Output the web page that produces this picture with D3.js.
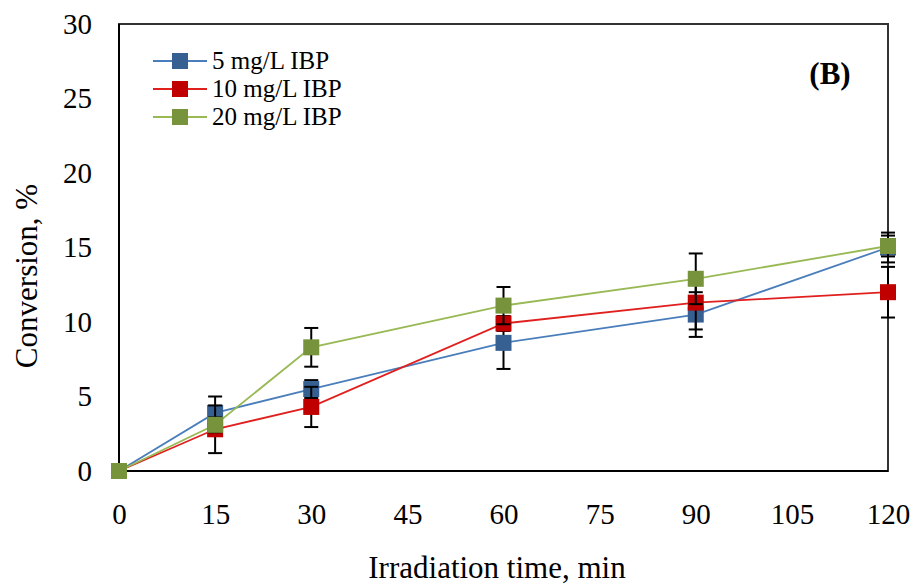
<!DOCTYPE html>
<html><head><meta charset="utf-8">
<script src="https://cdn.jsdelivr.net/npm/d3@7"></script>
<style>body{margin:0;background:#fff}svg text{font-family:"Liberation Serif","Times New Roman",serif;fill:#000}</style>
</head><body><svg id="c" width="917" height="585"></svg>
<script>
const times = [0, 15, 30, 60, 90, 120];
const xTicks = [0, 15, 30, 45, 60, 75, 90, 105, 120];
const yTicks = [0, 5, 10, 15, 20, 25, 30];
const seriesNames = ["5 mg/L IBP", "10 mg/L IBP", "20 mg/L IBP"];
const conv5 = [0, 3.9, 5.5, 8.6, 10.5, 15.0];
const conv10 = [0, 2.8, 4.3, 9.9, 11.3, 12.0];
const conv20 = [0, 3.1, 8.3, 11.1, 12.9, 15.1];
const err5 = [0, 1.1, 0.6, 1.75, 1.5, 1.0];
const err10 = [0, 1.6, 1.35, 0.5, 1.8, 1.7];
const err20 = [0, 0.5, 1.3, 1.25, 1.7, 0.7];
const lineColors = ["#4A7EBB", "#E0201F", "#98B954"];
const markColors = ["#376092", "#C00000", "#77933C"];

const svg = d3.select("#c");
const L = 119, R = 888, T = 24, B = 471;
const x = d3.scaleLinear().domain([0, 120]).range([L, R]);
const y = d3.scaleLinear().domain([0, 30]).range([B, T]);

// frame
svg.append("rect").attr("x", L).attr("y", T).attr("width", R - L).attr("height", B - T)
  .attr("fill", "none").attr("stroke", "#333").attr("stroke-width", 2);
svg.append("path").attr("d", `M${L},${T}V${B}H${R}`).attr("fill", "none")
  .attr("stroke", "#000").attr("stroke-width", 2);

// axes (labels only)
const xAx = svg.append("g").attr("transform", `translate(0,${B})`)
  .call(d3.axisBottom(x).tickValues(xTicks).tickSize(0).tickPadding(32));
xAx.select(".domain").remove();
xAx.selectAll("text").attr("font-size", 29).attr("font-family", "Liberation Serif");
const yAx = svg.append("g").attr("transform", `translate(${L},0)`)
  .call(d3.axisLeft(y).tickValues(yTicks).tickSize(0).tickPadding(27));
yAx.select(".domain").remove();
yAx.selectAll("text").attr("font-size", 29).attr("font-family", "Liberation Serif");

// titles
svg.append("text").attr("x", 497).attr("y", 578).attr("text-anchor", "middle")
  .attr("font-size", 31).text("Irradiation time, min");
svg.append("text").attr("transform", "translate(37,276) rotate(-90)").attr("text-anchor", "middle")
  .attr("font-size", 31).text("Conversion, %");
svg.append("text").attr("x", 830).attr("y", 84).attr("text-anchor", "middle")
  .attr("font-size", 31).attr("font-weight", "bold").text("(B)");

const data = [conv5, conv10, conv20];
const errs = [err5, err10, err20];
const plot = svg.append("g");
const line = d3.line().x((d, i) => x(times[i])).y(d => y(d));
data.forEach((vals, s) => {
  plot.append("path").datum(vals).attr("d", line).attr("fill", "none")
    .attr("stroke", lineColors[s]).attr("stroke-width", 1.8);
});
// error bars then markers, series in order
data.forEach((vals, s) => {
  const g = plot.append("g");
  vals.forEach((v, i) => {
    const e = errs[s][i];
    if (e > 0) {
      const cx = x(times[i]);
      g.append("line").attr("x1", cx).attr("x2", cx).attr("y1", y(v - e)).attr("y2", y(v + e))
        .attr("stroke", "#000").attr("stroke-width", 2);
      [v - e, v + e].forEach(w => g.append("line").attr("x1", cx - 7).attr("x2", cx + 7)
        .attr("y1", y(w)).attr("y2", y(w)).attr("stroke", "#000").attr("stroke-width", 2));
    }
  });
  g.selectAll("rect").data(vals).join("rect")
    .attr("x", (d, i) => x(times[i]) - 8).attr("y", d => y(d) - 8)
    .attr("width", 16).attr("height", 16).attr("fill", markColors[s]);
});

// legend
const lg = svg.append("g");
seriesNames.forEach((n, i) => {
  const cy = 61 + i * 28;
  lg.append("line").attr("x1", 153).attr("x2", 207).attr("y1", cy).attr("y2", cy)
    .attr("stroke", lineColors[i]).attr("stroke-width", 1.8);
  lg.append("rect").attr("x", 172).attr("y", cy - 8).attr("width", 16).attr("height", 16)
    .attr("fill", markColors[i]);
  lg.append("text").attr("x", 212).attr("y", cy + 8).attr("font-size", 25).text(n);
});
</script></body></html>
